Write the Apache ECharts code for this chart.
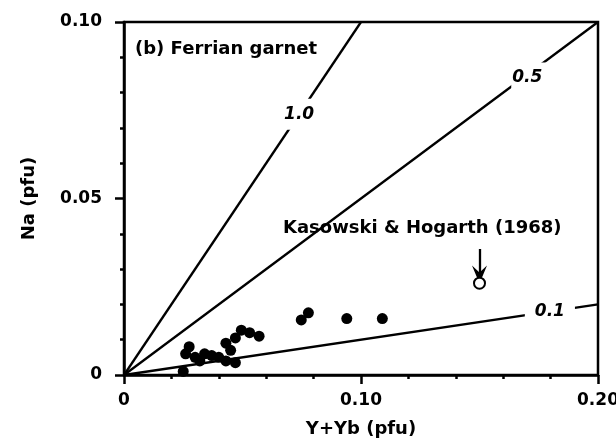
<!DOCTYPE html>
<html>
<head>
<meta charset="utf-8">
<script src="https://cdn.jsdelivr.net/npm/echarts@6/dist/echarts.min.js"></script>
<style>
  html, body { margin: 0; padding: 0; background: #fff; }
  #chart { width: 616px; height: 446px; }
</style>
</head>
<body>
<div id="chart"></div>
<script>
// Y+Yb (pfu) vs Na (pfu), ferrian garnet analyses
const garnetYYb = [0.025, 0.026, 0.0275, 0.030, 0.032, 0.034, 0.037, 0.040, 0.043, 0.047,
  0.043, 0.045, 0.047, 0.0495, 0.053, 0.057, 0.0748, 0.0778, 0.094, 0.109]
const garnetNa = [0.001, 0.006, 0.008, 0.005, 0.004, 0.006, 0.0055, 0.005, 0.004, 0.0035,
  0.009, 0.007, 0.0105, 0.0127, 0.012, 0.011, 0.0156, 0.0176, 0.016, 0.016]

// Kasowski & Hogarth (1968) analysis
const kasowskiYYb = [0.15]
const kasowskiNa = [0.026]

// Na/(Y+Yb) reference ratios and where their labels sit (x position on the line)
const ratios = [1.0, 0.5, 0.1]
const ratioLabels = ['1.0', '0.5', '0.1']
const ratioLabelX = [0.0739, 0.1708, 0.1797]

const xTicks = [0, 0.10, 0.20]
const yTicks = [0, 0.05, 0.10]

const X_MAX = 0.20
const Y_MAX = 0.10
const FONT = '"DejaVu Sans", sans-serif'

const chart = echarts.init(document.getElementById('chart'))

const lineEnd = k => {
  const x = Math.min(X_MAX, Y_MAX / k)
  return [x, k * x]
}

const ratioLines = ratios.map(k => ({
  type: 'line',
  data: [[0, 0], lineEnd(k)],
  symbol: 'none',
  lineStyle: { color: '#000', width: 2.3 },
  z: 2,
  silent: true,
  animation: false
}))

const labelPads = [[7, 3], [11, 4, 2, 1], [2, 10]]
const labelOffsets = [[0, 0], [0, 4], [0, 0]]

const ratioText = {
  type: 'scatter',
  symbolSize: 0,
  itemStyle: { opacity: 1 },
  z: 3,
  silent: true,
  animation: false,
  data: ratios.map((k, i) => ({
    value: [ratioLabelX[i], k * ratioLabelX[i]],
    label: {
      show: true,
      position: 'inside',
      formatter: ratioLabels[i],
      offset: labelOffsets[i],
      padding: labelPads[i],
      backgroundColor: '#fff',
      color: '#000',
      opacity: 1,
      textBorderWidth: 0,
      fontFamily: FONT,
      fontSize: 17,
      fontWeight: 'bold',
      fontStyle: 'italic'
    }
  }))
}

const garnet = {
  type: 'scatter',
  data: garnetYYb.map((x, i) => [x, garnetNa[i]]),
  symbol: 'circle',
  symbolSize: 11,
  itemStyle: { color: '#000', opacity: 1 },
  z: 5,
  animation: false
}

const kasowski = {
  type: 'scatter',
  data: kasowskiYYb.map((x, i) => [x, kasowskiNa[i]]),
  symbol: 'circle',
  symbolSize: 11,
  itemStyle: { color: '#fff', borderColor: '#000', borderWidth: 2, opacity: 1 },
  z: 5,
  animation: false,
  markLine: {
    silent: true,
    animation: false,
    symbol: ['none', 'path://M5,0 L10,10 L5,6 L0,10 Z'],
    symbolSize: [15, 18],
    lineStyle: { color: '#000', width: 2.3, type: 'solid' },
    label: { show: false },
    data: [[
      { coord: [kasowskiYYb[0], kasowskiNa[0] + 0.0097] },
      { coord: [kasowskiYYb[0], kasowskiNa[0] + 0.0025] }
    ]]
  }
}

const tickLabel = {
  color: '#000',
  fontFamily: FONT,
  fontSize: 17,
  fontWeight: 'bold'
}

const axisStroke = { color: '#000', width: 2.5 }

const option = {
  backgroundColor: '#fff',
  animation: false,
  grid: {
    left: 124,
    right: 18,
    top: 22,
    bottom: 71,
    outerBoundsMode: 'none',
    containLabel: false,
    show: true,
    borderColor: '#000',
    borderWidth: 2.5,
    backgroundColor: 'transparent'
  },
  xAxis: {
    type: 'value',
    min: 0,
    max: X_MAX,
    interval: 0.10,
    name: 'Y+Yb (pfu)',
    nameLocation: 'middle',
    nameGap: 45,
    nameTextStyle: { ...tickLabel, fontSize: 18 },
    axisLine: { show: true, lineStyle: axisStroke },
    axisTick: { show: true, length: 9, lineStyle: axisStroke },
    minorTick: { show: true, splitNumber: 5, length: 4, lineStyle: axisStroke },
    splitLine: { show: false },
    axisLabel: {
      ...tickLabel,
      margin: 17,
      formatter: v => {
        const i = xTicks.findIndex(t => Math.abs(t - v) < 1e-9)
        return i < 0 ? '' : (i === 0 ? '0' : xTicks[i].toFixed(2))
      }
    }
  },
  yAxis: {
    type: 'value',
    min: 0,
    max: Y_MAX,
    interval: 0.05,
    name: 'Na (pfu)',
    nameLocation: 'middle',
    nameGap: 86,
    nameTextStyle: { ...tickLabel, fontSize: 18 },
    axisLine: { show: true, lineStyle: axisStroke },
    axisTick: { show: true, length: 9, lineStyle: axisStroke },
    minorTick: { show: true, splitNumber: 5, length: 4, lineStyle: axisStroke },
    splitLine: { show: false },
    axisLabel: {
      ...tickLabel,
      margin: 22,
      formatter: v => {
        const i = yTicks.findIndex(t => Math.abs(t - v) < 1e-9)
        return i < 0 ? '' : (i === 0 ? '0' : yTicks[i].toFixed(2))
      }
    }
  },
  graphic: [
    {
      type: 'text',
      left: 135,
      top: 40,
      style: {
        text: '(b) Ferrian garnet',
        fill: '#000',
        font: 'bold 18px ' + FONT
      }
    },
    {
      type: 'text',
      left: 283,
      top: 219,
      style: {
        text: 'Kasowski & Hogarth (1968)',
        fill: '#000',
        font: 'bold 18px ' + FONT
      }
    }
  ],
  series: [...ratioLines, ratioText, garnet, kasowski]
}

chart.setOption(option)
</script>
</body>
</html>
